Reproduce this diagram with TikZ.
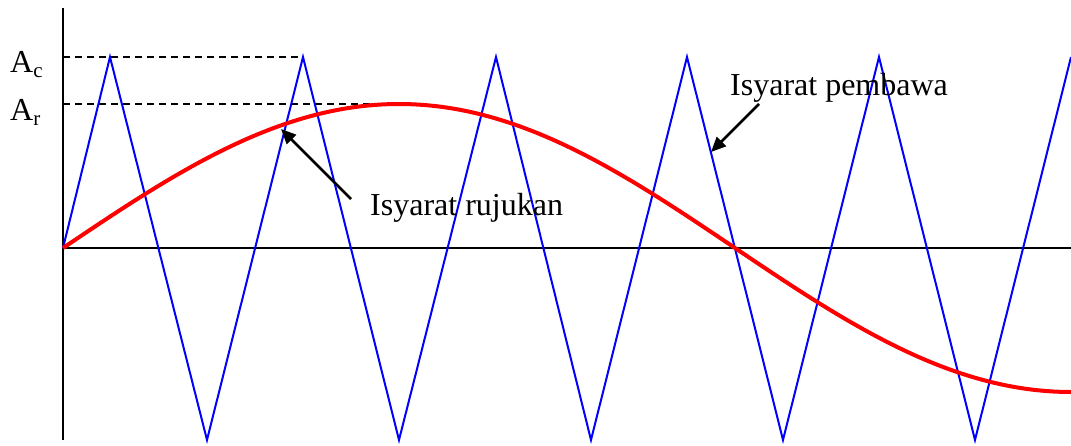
\documentclass[tikz,border=0pt]{standalone}
\usepackage{fontspec}
\setmainfont{Liberation Serif}
\usetikzlibrary{arrows.meta}
\begin{document}
\begin{tikzpicture}[x=1pt,y=-1pt,
  axis/.style={black,line width=2pt},
  carrier/.style={blue,line width=2pt,line join=miter},
  reference/.style={red,line width=4pt},
  guide/.style={black,line width=1.4pt,dash pattern=on 7pt off 5pt},
  pointer/.style={black,line width=2.6pt,-{Triangle[length=15pt,width=13pt]}},
  lbl/.style={inner sep=0pt,anchor=base west,font=\fontsize{32}{32}\selectfont}]
\useasboundingbox (0,0) rectangle (1071,445);
% axes
\coordinate (vtop) at (63,8);
\coordinate (vbot) at (63,440);
\coordinate (o) at (63,248);
\coordinate (hend) at (1071,248);
\draw[axis] (vtop) -- (vbot);
\draw[axis] (o) -- (hend);
% guides
\coordinate (ac0) at (63,57);
\coordinate (ac1) at (303,57);
\coordinate (ar0) at (63,104);
\coordinate (ar1) at (392,104);
\draw[guide] (ac0) -- (ac1);
\draw[guide] (ar0) -- (ar1);
% carrier triangle
\draw[carrier] (63,248) -- (110,57) -- (207,440) -- (303,57) -- (399,440) -- (496,57)
  -- (591,440) -- (687,57) -- (783,440) -- (879,57) -- (975,440) -- (1071,57);
% reference sine
\draw[reference] plot[domain=63:1071,samples=120,smooth] (\x,{248-144*sin(((\x-63)/672*180))});
% labels
\node[lbl] (Ac) at (10,72) {A\raisebox{-5pt}{\fontsize{21}{21}\selectfont c}};
\node[lbl] (Ar) at (10,120) {A\raisebox{-5pt}{\fontsize{21}{21}\selectfont r}};
\node[lbl] (ruj) at (370,215) {Isyarat rujukan};
\node[lbl] (pem) at (730,95) {Isyarat pembawa};
% pointers
\coordinate (rs) at (351,199);
\coordinate (rt) at (281,129);
\coordinate (ps) at (759,104);
\coordinate (pt) at (711,152);
\draw[pointer] (rs) -- (rt);
\draw[pointer] (ps) -- (pt);
\end{tikzpicture}
\end{document}
